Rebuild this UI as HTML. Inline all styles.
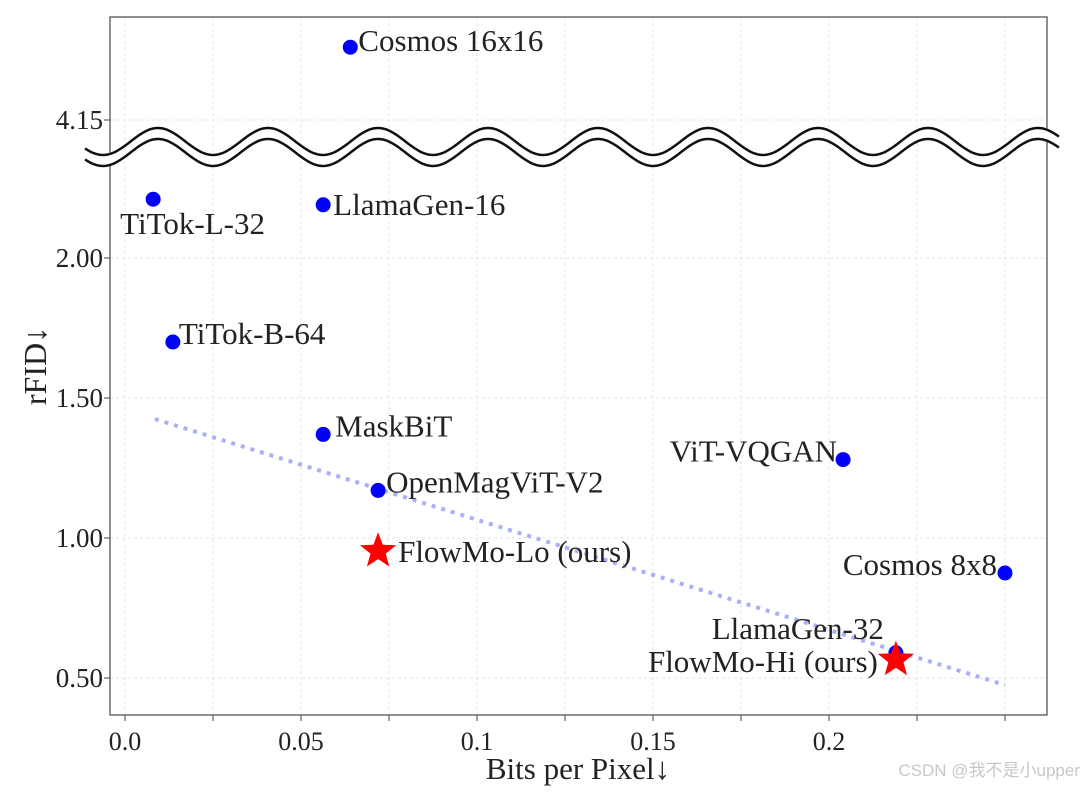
<!DOCTYPE html>
<html><head><meta charset="utf-8"><style>
body{margin:0;background:#fff;}
svg text{font-family:"Liberation Serif",serif;fill:#222;}
</style></head><body>
<svg id="chart" width="1085" height="787" xmlns="http://www.w3.org/2000/svg"></svg>
<script>
const names=["Cosmos 16x16","TiTok-L-32","LlamaGen-16","TiTok-B-64","MaskBiT","OpenMagViT-V2","ViT-VQGAN","Cosmos 8x8","LlamaGen-32"];
const bpp=[0.064,0.008,0.0563,0.0136,0.0563,0.0719,0.204,0.25,0.219];
const rfid=[4.41,2.21,2.19,1.70,1.37,1.17,1.28,0.875,0.59];
const oursNames=["FlowMo-Lo (ours)","FlowMo-Hi (ours)"];
const oursBpp=[0.0719,0.219];
const oursRfid=[0.953,0.565];
const trendX=[0.0085,0.25];
const trendY=[1.425,0.475];
const xTicks=[0,0.025,0.05,0.075,0.1,0.125,0.15,0.175,0.2,0.225,0.25];
const xTickLabels=["0.0","","0.05","","0.1","","0.15","","0.2","",""];
const yTicks=[0.5,1.0,1.5,2.0,4.15];
const yTickLabels=["0.50","1.00","1.50","2.00","4.15"];

const NS="http://www.w3.org/2000/svg";
const svg=document.getElementById('chart');
const L=110,R=1047,T=17,B=715;
function X(v){return 125+v*3520;}
function Y(v){return v>3?120-(v-4.15)*280:678-(v-0.5)*280;}
function mk(tag,attrs,parent){const e=document.createElementNS(NS,tag);for(const k in attrs)e.setAttribute(k,attrs[k]);(parent||svg).appendChild(e);return e;}

xTicks.forEach((t,i)=>{
  const g=mk('line',{x1:X(t),x2:X(t),y1:T,y2:B,stroke:'#e4e4e4','stroke-dasharray':'3,3','stroke-width':1});
  
  
  const tk=mk('line',{x1:X(t),x2:X(t),y1:B,y2:B+6,stroke:'#444','stroke-width':1});
  
  
  if(xTickLabels[i]){
    const tx=mk('text',{x:X(t),y:B+35,'text-anchor':'middle','font-size':26});
    tx.textContent=xTickLabels[i];
    
    
  }
});
yTicks.forEach((t,i)=>{
  const g=mk('line',{x1:L,x2:R,y1:Y(t),y2:Y(t),stroke:'#e4e4e4','stroke-dasharray':'3,3','stroke-width':1});
  
  
  const tk=mk('line',{x1:L-6,x2:L,y1:Y(t),y2:Y(t),stroke:'#444','stroke-width':1});
  
  
  const tx=mk('text',{x:L-7,y:Y(t)+9,'text-anchor':'end','font-size':27});
  tx.textContent=yTickLabels[i];
  
  
});
const frame=mk('rect',{x:L,y:T,width:R-L,height:B-T,fill:'none',stroke:'#555','stroke-width':1.3});



function wave(off){let d='';for(let x=85;x<=1060;x+=2){const y=141.5+off+13.5*Math.cos((x-103)/110*2*Math.PI);d+=(x===85?'M':'L')+x+','+y.toFixed(1);}return d;}
for(let k=0;k<6;k++){mk('path',{d:wave(k*2),fill:'none',stroke:'#fff','stroke-width':3});}
const w1=mk('path',{d:wave(0),fill:'none',stroke:'#111','stroke-width':2.5});


const w2=mk('path',{d:wave(11),fill:'none',stroke:'#111','stroke-width':2.5});



const tl=mk('line',{x1:X(trendX[0]),y1:Y(trendY[0]),x2:X(trendX[1]),y2:Y(trendY[1]),stroke:'#aab0f5','stroke-width':4,'stroke-dasharray':'4,6'});



const lab=[[8,2,'start'],[-33,33,'start'],[10,8,'start'],[6,0,'start'],[12,0,'start'],[8,0,'start'],[-6,0,'end'],[-8,0,'end'],[-12,-16,'end']];
names.forEach((n,i)=>{
  const c=mk('circle',{cx:X(bpp[i]),cy:Y(rfid[i]),r:7.5,fill:'#0000ff'});
  
  
  const t=mk('text',{x:X(bpp[i])+lab[i][0],y:Y(rfid[i])+lab[i][1]+2,'text-anchor':lab[i][2],'font-size':31});
  t.textContent=n;
  
  
});
function star(cx,cy,r){let p=[];for(let k=0;k<10;k++){const a=-Math.PI/2+k*Math.PI/5;const rr=k%2?r*0.42:r;p.push((cx+rr*Math.cos(a)).toFixed(1)+','+(cy+rr*Math.sin(a)).toFixed(1));}return p.join(' ');}
const olab=[[20,11,'start'],[-18,12,'end']];
oursNames.forEach((n,i)=>{
  const s=mk('polygon',{points:star(X(oursBpp[i]),Y(oursRfid[i]),19),fill:'#ff0000'});
  
  
  const t=mk('text',{x:X(oursBpp[i])+olab[i][0],y:Y(oursRfid[i])+olab[i][1],'text-anchor':olab[i][2],'font-size':31});
  t.textContent=n;
  
  
});

const xt=mk('text',{x:578,y:779,'text-anchor':'middle','font-size':31});
xt.textContent='Bits per Pixel↓';


const yt=mk('text',{x:0,y:0,'text-anchor':'middle','font-size':32,transform:'translate(46,366) rotate(-90)'});
yt.textContent='rFID↓';


const wm=mk('text',{x:1080,y:776,'text-anchor':'end','font-size':17,style:'font-family:"Liberation Sans","Noto Sans CJK SC",sans-serif;fill:#c8c8c8'});
wm.textContent='CSDN @我不是小upper';


</script>
</body></html>
